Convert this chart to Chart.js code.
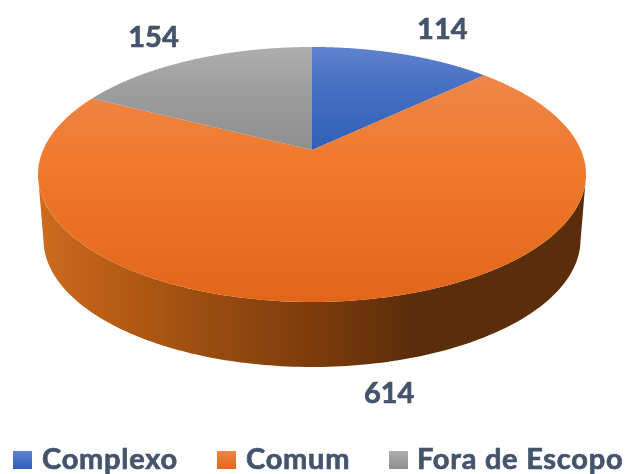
<!DOCTYPE html>
<html>
<head>
<meta charset="utf-8">
<script src="https://cdn.jsdelivr.net/npm/chart.js@4"></script>
<style>
  html, body { margin: 0; padding: 0; background: #fff; }
  #wrap { position: relative; width: 627px; height: 474px; overflow: hidden; filter: blur(.6px); }
  #pie { position: absolute; left: 0; top: 0; }
  .legend { position: absolute; left: 0; top: 442px; width: 627px; height: 32px; font: 700 29px Lato, sans-serif; color: #44546A; letter-spacing: .75px; -webkit-text-stroke: .7px #44546A; }
  .item { position: absolute; top: 0; line-height: 32px; white-space: nowrap; }
  .box { position: absolute; top: 9px; width: 19px; height: 18px; }
</style>
</head>
<body>
<div id="wrap">
  <canvas id="pie" width="627" height="474" role="img" aria-label="3D pie chart"></canvas>
  <div class="legend" id="legend"></div>
</div>
<script>
const categories = ['Complexo', 'Comum', 'Fora de Escopo'];
const values = [114, 614, 154];
const colors = ['#4472C4', '#ED7D31', '#A5A5A5'];
const faceTop = ['#5E83CE', '#EF8648', '#AEAEAE'];
const faceMid = ['#4670C2', '#F0792B', '#9E9E9E'];
const faceBottom = ['#2F5FB8', '#E2661A', '#8E8E8E'];

// projection of the unit circle onto the tilted disc
const cx = 312, cy = 150, rx = 268.9, ry = 122.8, tilt = 0.192;
const depth = 65, sideScale = 0.98;
const project = (a, r = 1) => {
  const u = Math.cos(a) * r, v = Math.sin(a) * r, w = 1 - tilt * v;
  return { x: cx + rx * u / w, y: cy + ry * v / w };
};
const lower = p => ({ x: cx + (p.x - cx) * sideScale, y: p.y + depth });

// label shift from the rim point at the middle of each slice
const labelShift = [[40, -24], [30, 94], [-38, -22]];

const pie3d = {
  id: 'pie3d',
  beforeDatasetsDraw(chart) {
    const ctx = chart.ctx;
    const arcs = chart.getDatasetMeta(0).data;
    const steps = 240;

    // side wall, only the part facing the viewer
    arcs.forEach(arc => {
      const near = [];
      for (let i = 0; i <= steps; i++) {
        const a = arc.startAngle + (arc.endAngle - arc.startAngle) * i / steps;
        if (Math.sin(a) >= tilt) near.push(project(a));
      }
      if (near.length < 2) return;
      const g = ctx.createLinearGradient(38, 0, 587, 0);
      g.addColorStop(0, '#CC6C20');
      g.addColorStop(0.13, '#B85D16');
      g.addColorStop(0.3, '#9B4D10');
      g.addColorStop(0.48, '#803D0C');
      g.addColorStop(0.68, '#5C2D0A');
      g.addColorStop(1, '#5C2D0A');
      ctx.beginPath();
      near.forEach((p, i) => i ? ctx.lineTo(p.x, p.y) : ctx.moveTo(p.x, p.y));
      near.slice().reverse().forEach(p => { const q = lower(p); ctx.lineTo(q.x, q.y); });
      ctx.closePath();
      ctx.fillStyle = g;
      ctx.fill();
    });

    // top face
    arcs.forEach((arc, idx) => {
      const pts = [{ x: cx, y: cy }];
      for (let i = 0; i <= steps; i++) {
        pts.push(project(arc.startAngle + (arc.endAngle - arc.startAngle) * i / steps));
      }
      const ys = pts.map(p => p.y);
      const g = ctx.createLinearGradient(0, Math.min(...ys), 0, Math.max(...ys));
      g.addColorStop(0, faceTop[idx]);
      g.addColorStop(0.4, faceMid[idx]);
      g.addColorStop(1, faceBottom[idx]);
      ctx.beginPath();
      pts.forEach((p, i) => i ? ctx.lineTo(p.x, p.y) : ctx.moveTo(p.x, p.y));
      ctx.closePath();
      ctx.fillStyle = g;
      ctx.fill();
    });

    // value labels
    ctx.font = '700 29px Lato, sans-serif';
    ctx.fillStyle = '#44546A';
    ctx.strokeStyle = '#44546A';
    ctx.lineWidth = .7;
    ctx.textAlign = 'center';
    ctx.textBaseline = 'middle';
    arcs.forEach((arc, idx) => {
      const p = project((arc.startAngle + arc.endAngle) / 2);
      ctx.fillText(values[idx], p.x + labelShift[idx][0], p.y + labelShift[idx][1]);
      ctx.strokeText(values[idx], p.x + labelShift[idx][0], p.y + labelShift[idx][1]);
    });
    return false;
  }
};

new Chart(document.getElementById('pie'), {
  type: 'pie',
  data: {
    labels: categories,
    datasets: [{ data: values, backgroundColor: colors, borderWidth: 0 }]
  },
  options: {
    responsive: false,
    animation: false,
    plugins: { legend: { display: false }, tooltip: { enabled: false } }
  },
  plugins: [pie3d]
});

// legend
const boxX = [13, 217, 389];
const textX = [42, 246, 417];
const legend = document.getElementById('legend');
categories.forEach((c, i) => {
  const box = document.createElement('div');
  box.className = 'box';
  box.style.left = boxX[i] + 'px';
  box.style.background = `linear-gradient(${faceTop[i]}, ${faceBottom[i]})`;
  legend.appendChild(box);
  const item = document.createElement('div');
  item.className = 'item';
  item.style.left = textX[i] + 'px';
  item.textContent = c;
  legend.appendChild(item);
});
</script>
</body>
</html>
